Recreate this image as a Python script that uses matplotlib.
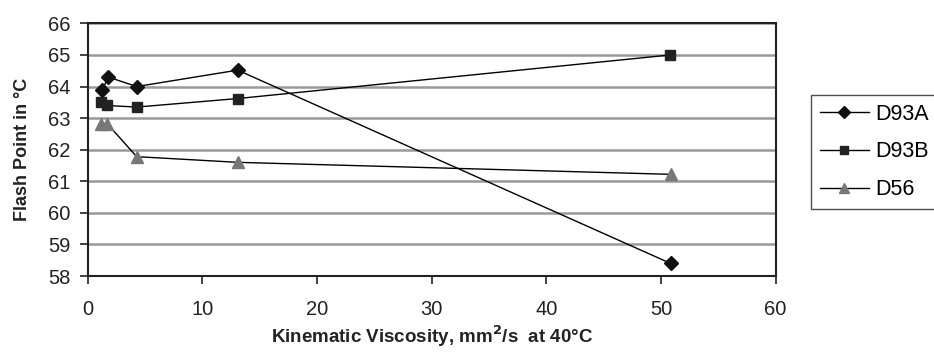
import matplotlib.pyplot as plt

plt.rcParams['font.family'] = ['Liberation Sans', 'DejaVu Sans']

# values
visc_a = [1.27, 1.8, 4.27, 13.08, 50.83]
flash_a = [63.9, 64.3, 64.0, 64.52, 58.4]

visc_b = [1.16, 1.71, 4.27, 13.08, 50.8]
flash_b = [63.52, 63.4, 63.35, 63.62, 65.0]

visc_c = [1.16, 1.71, 4.27, 13.08, 50.83]
flash_c = [62.82, 62.82, 61.78, 61.6, 61.22]

x_ticks = [0, 10, 20, 30, 40, 50, 60]
y_ticks = [58, 59, 60, 61, 62, 63, 64, 65, 66]


def main():
    fig = plt.figure(figsize=(9.34, 3.6), dpi=100)
    ax = fig.add_axes([0.0939, 0.2333, 0.7366, 0.7017])

    for y in y_ticks:
        ax.axhline(y, color='#999999', linewidth=1.8, zorder=1)

    ax.plot(visc_a, flash_a, color='black', linewidth=1.0, marker='D',
            markersize=7, markerfacecolor='#111111', markeredgecolor='#111111',
            label='D93A', zorder=3)
    ax.plot(visc_b, flash_b, color='black', linewidth=1.0, marker='s',
            markersize=7.5, markerfacecolor='#222222', markeredgecolor='#222222',
            label='D93B', zorder=3)
    ax.plot(visc_c, flash_c, color='black', linewidth=1.0, marker='^',
            markersize=9, markerfacecolor='#777777', markeredgecolor='#777777',
            label='D56', zorder=3)

    ax.set_xlim(0, 60)
    ax.set_ylim(58, 66)
    ax.set_xticks(x_ticks)
    ax.set_yticks(y_ticks)
    ax.tick_params(labelsize=14.5, colors='#222222', length=5.5, width=1.2,
                   direction='out')
    ax.tick_params(axis='x', pad=12)
    ax.tick_params(axis='y', pad=7)
    for sp in ax.spines.values():
        sp.set_color('#222222')
        sp.set_linewidth(1.5)

    ax.set_xlabel('Kinematic Viscosity, mm$^\\mathbf{2}$/s  at 40°C',
                  fontsize=13.5, fontweight='bold', color='#222222', labelpad=3)
    ax.set_ylabel('Flash Point in °C', fontsize=13, fontweight='bold',
                  color='#222222', labelpad=12)

    leg = fig.legend(loc='upper left', bbox_to_anchor=(811 / 934, 1 - 95 / 360),
                     fontsize=15.5, frameon=True, fancybox=False, markerscale=0.85,
                     handlelength=2.3, handletextpad=0.3, borderpad=0.4,
                     labelspacing=0.78, borderaxespad=0)
    leg.get_frame().set_edgecolor('#222222')
    leg.get_frame().set_linewidth(1.0)

    fig.savefig('out.png', dpi=100)
    plt.close(fig)


if __name__ == '__main__':
    main()
